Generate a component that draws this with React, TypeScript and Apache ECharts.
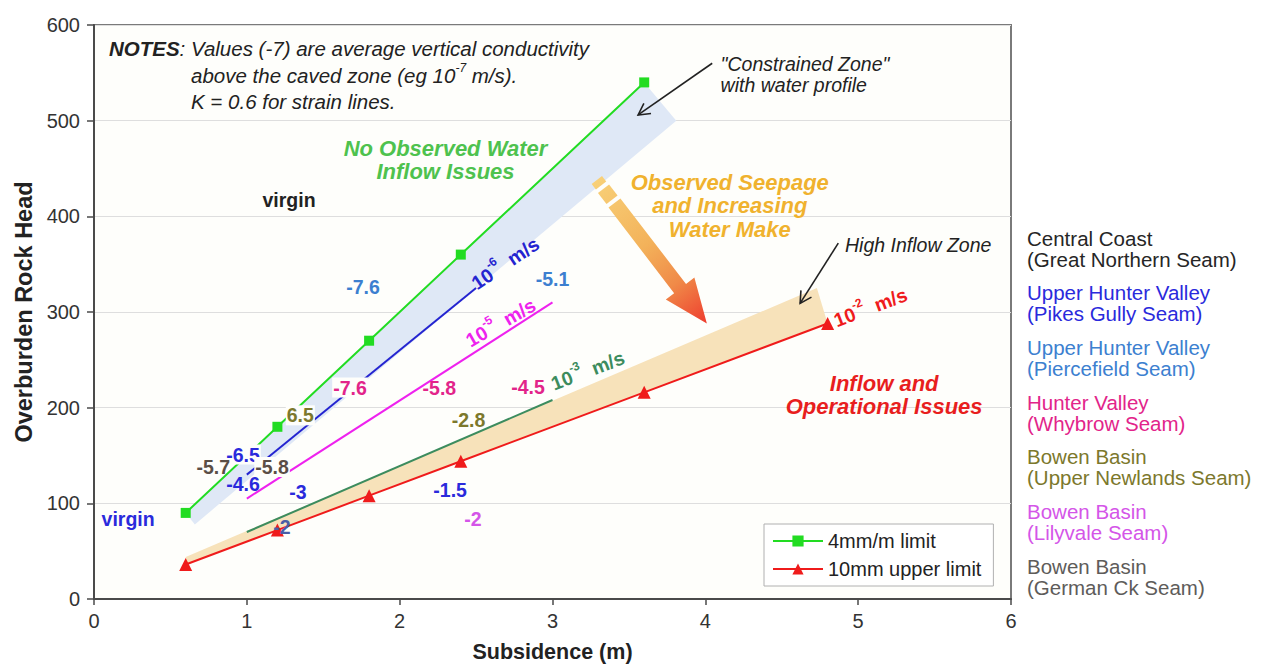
import React, { useEffect, useRef } from 'react';
import * as echarts from 'echarts';

const FONT = '"Liberation Sans", Arial, Helvetica, sans-serif';

// Strain limit lines (subsidence in m vs overburden rock head)
const subsidence4mm = [0.6, 1.2, 1.8, 2.4, 3.6];
const head4mm = [90, 180, 270, 360, 540];
const subsidence10mm = [0.6, 1.2, 1.8, 2.4, 3.6, 4.8];
const head10mm = [36, 72, 108, 144, 216, 288];

// Conductivity trend lines
const k6Line = [[1.0, 130], [2.5, 325]];
const k5Line = [[1.0, 105], [3.0, 310]];
const k3Line = [[1.0, 70], [3.0, 208]];

// Shaded zones
const constrainedZone = [[0.6, 90], [3.6, 540], [3.81, 500], [0.66, 78]];
const highInflowZone = [[0.6, 36], [0.6, 44], [4.73, 325], [4.8, 288]];

// Arrows: [x0, y0, x1, y1]
const seepageArrow = [[3.29, 438, 4.01, 288]];
const calloutArrows = [[4.045, 560, 3.56, 506], [4.87, 372, 4.62, 309]];

const xTicks = [0, 1, 2, 3, 4, 5, 6];
const yTicks = [0, 100, 200, 300, 400, 500, 600];

const C = {
  green: '#22dc22',
  red: '#ef1b1b',
  blue: '#2424d0',
  magenta: '#ee22ee',
  darkGreen: '#3c8c5e',
  steel: '#3c7fd0',
  labelBlue: '#2a2adc',
  pink: '#e2248a',
  olive: '#7c782c',
  brown: '#5a4e46',
  violet: '#d455e8',
  slate: '#4a5ea6',
  zoneGreen: '#4ec24e',
  orange: '#f0b22e',
  zoneRed: '#e81e1e',
  ink: '#222222',
  plot: '#fefefb',
  blueBand: '#dfe8f6',
  tanBand: '#f7e2ba',
};

// Average vertical conductivity values (log10 m/s)
const valueLabels = [
  { text: '-7.6', x: 1.76, y: 326, color: C.steel },
  { text: '-5.1', x: 3.0, y: 334, color: C.steel },
  { text: '-6.5', x: 0.975, y: 151, color: C.labelBlue, mask: true },
  { text: '-4.6', x: 0.975, y: 120, color: C.labelBlue },
  { text: '-3', x: 1.335, y: 112, color: C.labelBlue },
  { text: '-1.5', x: 2.33, y: 114, color: C.labelBlue },
  { text: '-7.6', x: 1.675, y: 221, color: C.pink, mask: true },
  { text: '-5.8', x: 2.26, y: 221, color: C.pink },
  { text: '-4.5', x: 2.84, y: 222, color: C.pink },
  { text: '6.5', x: 1.35, y: 192, color: C.olive, mask: true },
  { text: '-2.8', x: 2.45, y: 187, color: C.olive },
  { text: '-5.7', x: 0.78, y: 138, color: C.brown },
  { text: '-5.8', x: 1.165, y: 138, color: C.brown, mask: true },
  { text: '-2', x: 2.48, y: 83.6, color: C.violet },
  { text: '-2', x: 1.23, y: 75, color: C.slate },
  { text: 'virgin', x: 1.276, y: 417, color: C.ink },
  { text: 'virgin', x: 0.223, y: 83.6, color: C.labelBlue },
];

const conductivityTags = [
  { exp: '-6', x: 2.69, y: 351, angle: 34, color: C.blue },
  { exp: '-5', x: 2.66, y: 289, angle: 30, color: C.magenta },
  { exp: '-3', x: 3.23, y: 239, angle: 21, color: C.darkGreen },
  { exp: '-2', x: 5.08, y: 305, angle: 21, color: C.red },
];

const zoneNotes = [
  { text: 'No Observed Water\nInflow Issues', x: 2.3, y: 459, color: C.zoneGreen },
  { text: 'Observed Seepage\nand Increasing\nWater Make', x: 4.16, y: 411, color: C.orange },
  { text: 'Inflow and\nOperational Issues', x: 5.17, y: 213, color: C.zoneRed },
];

const calloutNotes = [
  { text: '"Constrained Zone"\nwith water profile', x: 4.1, y: 548 },
  { text: 'High Inflow Zone', x: 4.914, y: 370 },
];

const seams = [
  { region: 'Central Coast', seam: '(Great Northern Seam)', color: '#262626' },
  { region: 'Upper Hunter Valley', seam: '(Pikes Gully Seam)', color: '#2a2adc' },
  { region: 'Upper Hunter Valley', seam: '(Piercefield Seam)', color: '#3c80d0' },
  { region: 'Hunter Valley', seam: '(Whybrow Seam)', color: '#e2248a' },
  { region: 'Bowen Basin', seam: '(Upper Newlands Seam)', color: '#7c782c' },
  { region: 'Bowen Basin', seam: '(Lilyvale Seam)', color: '#d455e8' },
  { region: 'Bowen Basin', seam: '(German Ck Seam)', color: '#5e5c5a' },
];

const zip = (xs: number[], ys: number[]) => xs.map((x, i) => [x, ys[i]]);

function zoneSeries(pts: number[][], fill: string) {
  return {
    type: 'custom',
    silent: true,
    z: 1,
    data: pts,
    encode: { x: 0, y: 1 },
    renderItem: (params: any, api: any) => {
      if (params.dataIndex !== 0) return { type: 'group', children: [] };
      return {
        type: 'polygon',
        shape: { points: pts.map((p) => api.coord(p)) },
        style: { fill },
      };
    },
  };
}

function textSeries(items: any[], build: (it: any, p: number[]) => any, z = 6) {
  return {
    type: 'custom',
    silent: true,
    z,
    data: items.map((it) => [it.x, it.y]),
    encode: { x: 0, y: 1 },
    renderItem: (params: any, api: any) => {
      const it = items[params.dataIndex];
      const p = api.coord([api.value(0), api.value(1)]);
      return build(it, p);
    },
  };
}

const lineSeries = (data: number[][], color: string) => ({
  type: 'line',
  data,
  showSymbol: false,
  silent: true,
  z: 3,
  lineStyle: { color, width: 2 },
});

export default function App() {
  const ref = useRef<HTMLDivElement>(null);

  useEffect(() => {
    const chart = echarts.init(ref.current!, null, { renderer: 'svg' });

    const seamGraphics = seams.map((s, i) => ({
      type: 'text',
      x: 1027,
      y: 248.5 + i * 54.67,
      style: {
        text: `${s.region}\n${s.seam}`,
        fill: s.color,
        fontFamily: FONT,
        fontSize: 20.5,
        lineHeight: 21,
        align: 'left',
        verticalAlign: 'middle',
      },
    }));

    const noteStyle = { fontFamily: FONT, fontSize: 20.5, fontStyle: 'italic', fill: C.ink };

    const option: any = {
      animation: false,
      backgroundColor: '#ffffff',
      textStyle: { fontFamily: FONT },
      grid: {
        left: 94,
        right: 251,
        top: 25,
        bottom: 65,
        outerBoundsMode: 'none',
        containLabel: false,
        show: true,
        backgroundColor: C.plot,
        borderColor: '#7a7a7a',
        borderWidth: 2,
      },
      xAxis: {
        type: 'value',
        min: xTicks[0],
        max: xTicks[xTicks.length - 1],
        interval: 1,
        name: 'Subsidence (m)',
        nameLocation: 'middle',
        nameGap: 42,
        nameTextStyle: {
          fontFamily: FONT,
          fontSize: 21.5,
          lineHeight: 21,
          fontWeight: 'bold',
          color: '#222',
        },
        axisLine: { lineStyle: { color: '#4a4a4a', width: 2 } },
        axisTick: { show: true, length: 6, lineStyle: { color: '#4a4a4a', width: 1.5 } },
        axisLabel: { fontFamily: FONT, fontSize: 20, color: '#333', margin: 12 },
        splitLine: { show: false },
      },
      yAxis: {
        type: 'value',
        min: yTicks[0],
        max: yTicks[yTicks.length - 1],
        interval: 100,
        name: 'Overburden Rock Head',
        nameLocation: 'middle',
        nameGap: 57,
        nameTextStyle: { fontFamily: FONT, fontSize: 23.5, fontWeight: 'bold', color: '#222' },
        axisLine: { show: true, lineStyle: { color: '#4a4a4a', width: 2 } },
        axisTick: { show: true, length: 7, lineStyle: { color: '#4a4a4a', width: 1.5 } },
        axisLabel: { fontFamily: FONT, fontSize: 20, color: '#333', margin: 14 },
        splitLine: { show: true, lineStyle: { color: '#dedede', width: 1 } },
      },
      legend: {
        orient: 'vertical',
        left: 764,
        top: 524,
        data: ['4mm/m limit', '10mm upper limit'],
        itemWidth: 50,
        itemHeight: 14,
        itemGap: 8,
        padding: [7, 12, 7, 8],
        backgroundColor: '#ffffff',
        borderColor: '#b0b0b0',
        borderWidth: 1,
        borderRadius: 0,
        textStyle: { fontFamily: FONT, fontSize: 20, color: '#222' },
      },
      graphic: [
        {
          type: 'text',
          x: 109,
          y: 48,
          style: {
            text: '{b|NOTES}{i|: Values (-7) are average vertical conductivity}',
            verticalAlign: 'middle',
            rich: {
              b: { ...noteStyle, fontWeight: 'bold' },
              i: { ...noteStyle },
            },
          },
        },
        {
          type: 'text',
          x: 191,
          y: 75,
          style: {
            ...noteStyle,
            text: 'above the caved zone (eg 10{s|-7} m/s).',
            verticalAlign: 'middle',
            lineHeight: 26,
            rich: { s: { ...noteStyle, fontSize: 12, verticalAlign: 'top' } },
          },
        },
        {
          type: 'text',
          x: 191,
          y: 101,
          style: { ...noteStyle, text: 'K = 0.6 for strain lines.', verticalAlign: 'middle' },
        },
        ...seamGraphics,
      ],
      series: [
        zoneSeries(constrainedZone, C.blueBand),
        zoneSeries(highInflowZone, C.tanBand),
        lineSeries(k6Line, C.blue),
        lineSeries(k5Line, C.magenta),
        lineSeries(k3Line, C.darkGreen),
        {
          name: '4mm/m limit',
          type: 'line',
          data: zip(subsidence4mm, head4mm),
          symbol: 'rect',
          symbolSize: 10,
          z: 4,
          lineStyle: { color: C.green, width: 2 },
          itemStyle: { color: C.green },
        },
        {
          name: '10mm upper limit',
          type: 'line',
          data: zip(subsidence10mm, head10mm),
          symbol: 'triangle',
          symbolSize: 13,
          z: 4,
          lineStyle: { color: C.red, width: 2 },
          itemStyle: { color: C.red },
        },
        // Seepage trend arrow with gradient
        {
          type: 'custom',
          silent: true,
          z: 5,
          data: seepageArrow,
          renderItem: (params: any, api: any) => {
            const p0 = api.coord([api.value(0), api.value(1)]);
            const p1 = api.coord([api.value(2), api.value(3)]);
            const dx = p1[0] - p0[0];
            const dy = p1[1] - p0[1];
            const L = Math.hypot(dx, dy);
            const ux = dx / L, uy = dy / L;
            const nx = -uy, ny = ux;
            const pt = (t: number, w: number) => [p0[0] + ux * t + nx * w, p0[1] + uy * t + ny * w];
            const fill = new echarts.graphic.LinearGradient(p0[0], p0[1], p1[0], p1[1], [
              { offset: 0, color: '#f8d078' },
              { offset: 0.45, color: '#f3b25a' },
              { offset: 0.72, color: '#f08a48' },
              { offset: 1, color: '#ee3c2e' },
            ], true);
            const seg = (a: number, b: number, w: number) => [pt(a, -w), pt(b, -w), pt(b, w), pt(a, w)];
            const head = 44;
            return {
              type: 'group',
              children: [
                { type: 'polygon', shape: { points: seg(0, 7, 6.5) }, style: { fill } },
                { type: 'polygon', shape: { points: seg(11, 25, 7) }, style: { fill } },
                {
                  type: 'polygon',
                  shape: {
                    points: [
                      pt(29, -7.5), pt(L - head, -7.5), pt(L - head, -18), pt(L, 0),
                      pt(L - head, 18), pt(L - head, 7.5), pt(29, 7.5),
                    ],
                  },
                  style: { fill },
                },
              ],
            };
          },
        },
        // Callout pointers
        {
          type: 'custom',
          silent: true,
          z: 5,
          data: calloutArrows,
          renderItem: (params: any, api: any) => {
            const p0 = api.coord([api.value(0), api.value(1)]);
            const p1 = api.coord([api.value(2), api.value(3)]);
            const ang = Math.atan2(p0[1] - p1[1], p0[0] - p1[0]);
            const arm = 13;
            const spread = 0.5;
            const a1 = [p1[0] + arm * Math.cos(ang + spread), p1[1] + arm * Math.sin(ang + spread)];
            const a2 = [p1[0] + arm * Math.cos(ang - spread), p1[1] + arm * Math.sin(ang - spread)];
            const stroke = { stroke: '#222', lineWidth: 1.6, fill: null };
            return {
              type: 'group',
              children: [
                { type: 'line', shape: { x1: p0[0], y1: p0[1], x2: p1[0], y2: p1[1] }, style: stroke },
                { type: 'polyline', shape: { points: [a1, p1, a2] }, style: stroke },
              ],
            };
          },
        },
        textSeries(valueLabels, (it, p) => ({
          type: 'text',
          x: p[0],
          y: p[1],
          style: {
            text: it.text,
            fill: it.color,
            fontFamily: FONT,
            fontSize: 19.5,
            fontWeight: 'bold',
            align: 'center',
            verticalAlign: 'middle',
            backgroundColor: it.mask ? C.plot : 'transparent',
            padding: it.mask ? [0, 1] : 0,
          },
        })),
        textSeries(conductivityTags, (it, p) => {
          const base = { fill: it.color, fontFamily: FONT, fontWeight: 'bold' };
          return {
            type: 'text',
            x: p[0],
            y: p[1],
            rotation: (it.angle * Math.PI) / 180,
            style: {
              ...base,
              text: `10{s|${it.exp}}  m/s`,
              fontSize: 19.5,
              lineHeight: 28,
              align: 'center',
              verticalAlign: 'middle',
              rich: { s: { ...base, fontSize: 12, verticalAlign: 'top' } },
            },
          };
        }),
        textSeries(zoneNotes, (it, p) => ({
          type: 'text',
          x: p[0],
          y: p[1],
          style: {
            text: it.text,
            fill: it.color,
            fontFamily: FONT,
            fontSize: 22,
            fontWeight: 'bold',
            fontStyle: 'italic',
            lineHeight: 23.5,
            align: 'center',
            verticalAlign: 'middle',
          },
        })),
        textSeries(calloutNotes, (it, p) => ({
          type: 'text',
          x: p[0],
          y: p[1],
          style: {
            text: it.text,
            fill: C.ink,
            fontFamily: FONT,
            fontSize: 19.5,
            fontStyle: 'italic',
            lineHeight: 21,
            align: 'left',
            verticalAlign: 'middle',
          },
        })),
      ],
    };

    chart.setOption(option);
    return () => chart.dispose();
  }, []);

  return (
    <div
      ref={ref}
      style={{ position: 'fixed', left: 0, top: 0, width: 1262, height: 664 }}
    />
  );
}
